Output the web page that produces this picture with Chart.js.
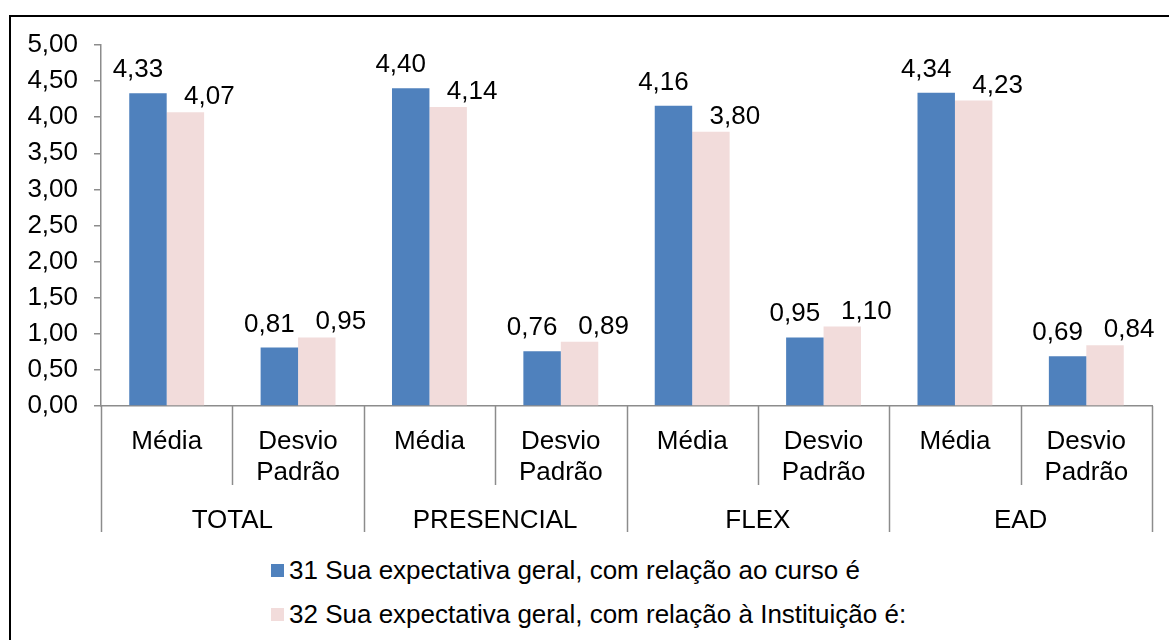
<!DOCTYPE html>
<html lang="pt">
<head>
    <meta charset="UTF-8">
    <title>Expectativa geral</title>
    <script src="https://cdn.jsdelivr.net/npm/chart.js"></script>
    <style>
        html, body { margin: 0; background: #fff; overflow: hidden; font-family: "Liberation Sans", Arial, sans-serif; }
        #wrap { position: relative; width: 1169px; height: 640px; }
        #frameTop { position: absolute; left: 9px; top: 15px; width: 1160px; height: 2px; background: #000; }
        #frameLeft { position: absolute; left: 9px; top: 15px; width: 2px; height: 625px; background: #000; }
        #chart { position: absolute; left: 0; top: 0; }
        #legend { position: absolute; left: 271px; top: 548px; font-size: 26px; color: #000; }
        #legend div { height: 44px; display: flex; align-items: center; white-space: nowrap; }
        #legend span.box { display: inline-block; width: 13px; height: 13px; margin-right: 5px; }
    </style>
</head>
<body>
<div id="wrap">
    <div id="frameTop"></div>
    <div id="frameLeft"></div>
    <canvas id="chart" width="1169" height="540"></canvas>
    <div id="legend"></div>
</div>

<script>
    // dados
    const categorias = [['Média'], ['Desvio', 'Padrão'], ['Média'], ['Desvio', 'Padrão'],
                        ['Média'], ['Desvio', 'Padrão'], ['Média'], ['Desvio', 'Padrão']];
    const grupos = ['TOTAL', 'PRESENCIAL', 'FLEX', 'EAD'];
    const serie31 = [4.33, 0.81, 4.40, 0.76, 4.16, 0.95, 4.34, 0.69];
    const serie32 = [4.07, 0.95, 4.14, 0.89, 3.80, 1.10, 4.23, 0.84];
    const nomes = ['31 Sua expectativa geral, com relação ao curso é',
                   '32 Sua expectativa geral, com relação à Instituição é:'];
    const cores = ['#4F81BD', '#F2DCDB'];

    const fonte = { family: '"Liberation Sans", Arial, sans-serif', size: 26 };
    const fmt = v => v.toFixed(2).replace('.', ',');

    // rótulos de dados acima das barras
    const rotulos = {
        id: 'rotulos',
        afterDatasetsDraw(chart) {
            const ctx = chart.ctx;
            const desloc = [-10, 24];
            const folga = [16, 8];
            ctx.save();
            ctx.font = fonte.size + 'px ' + fonte.family;
            ctx.fillStyle = '#000';
            ctx.textAlign = 'center';
            ctx.textBaseline = 'alphabetic';
            chart.data.datasets.forEach((ds, i) => {
                chart.getDatasetMeta(i).data.forEach((bar, j) => {
                    ctx.fillText(fmt(ds.data[j]), bar.x + desloc[i], bar.y - folga[i]);
                });
            });
            ctx.restore();
        }
    };

    // divisórias abaixo do eixo x
    const divisorias = {
        id: 'divisorias',
        afterDraw(chart) {
            const ctx = chart.ctx;
            const x = chart.scales.x;
            const x2 = chart.scales.x2;
            const passo = (x.right - x.left) / categorias.length;
            ctx.save();
            ctx.strokeStyle = '#8c8c8c';
            ctx.lineWidth = 1.5;
            for (let i = 0; i <= categorias.length; i++) {
                const px = Math.round(x.left + i * passo) + 0.5;
                const fim = (i % 2 === 0) ? x2.bottom : x.bottom;
                ctx.beginPath();
                ctx.moveTo(px, x.top);
                ctx.lineTo(px, fim);
                ctx.stroke();
            }
            ctx.restore();
        }
    };

    const chart = new Chart(document.getElementById('chart'), {
        type: 'bar',
        data: {
            labels: categorias,
            datasets: [
                { label: nomes[0], data: serie31, backgroundColor: cores[0], xAxisID: 'x' },
                { label: nomes[1], data: serie32, backgroundColor: cores[1], xAxisID: 'x' }
            ]
        },
        options: {
            responsive: false,
            animation: false,
            devicePixelRatio: 1,
            layout: { padding: { left: 10, right: 17, top: 45, bottom: 8 } },
            datasets: { bar: { categoryPercentage: 0.57, barPercentage: 1.0 } },
            plugins: {
                legend: { display: false },
                tooltip: { enabled: false }
            },
            scales: {
                y: {
                    min: 0, max: 5,
                    ticks: { stepSize: 0.5, color: '#000', font: fonte, padding: 16,
                             callback: v => fmt(v) },
                    grid: { drawOnChartArea: false, drawTicks: true, tickLength: 7, color: '#8c8c8c', lineWidth: 1.5 },
                    border: { color: '#8c8c8c', width: 1.5 },
                    afterFit: s => { s.width = 91; }
                },
                x: {
                    ticks: { color: '#000', font: fonte, padding: 12, maxRotation: 0, autoSkip: false },
                    grid: { display: false },
                    border: { color: '#8c8c8c', width: 1.5 },
                    afterFit: s => { s.height = 79; }
                },
                x2: {
                    type: 'category',
                    position: 'bottom',
                    labels: grupos,
                    offset: true,
                    ticks: { color: '#000', font: fonte, padding: 12, maxRotation: 0, autoSkip: false },
                    grid: { display: false },
                    border: { display: false },
                    afterFit: s => { s.height = 47; }
                }
            }
        },
        plugins: [rotulos, divisorias]
    });

    // legenda em html, uma entrada por linha
    const legenda = document.getElementById('legend');
    chart.data.datasets.forEach(ds => {
        const linha = document.createElement('div');
        linha.innerHTML = '<span class="box" style="background:' + ds.backgroundColor + '"></span>' + ds.label;
        legenda.appendChild(linha);
    });
</script>
</body>
</html>
